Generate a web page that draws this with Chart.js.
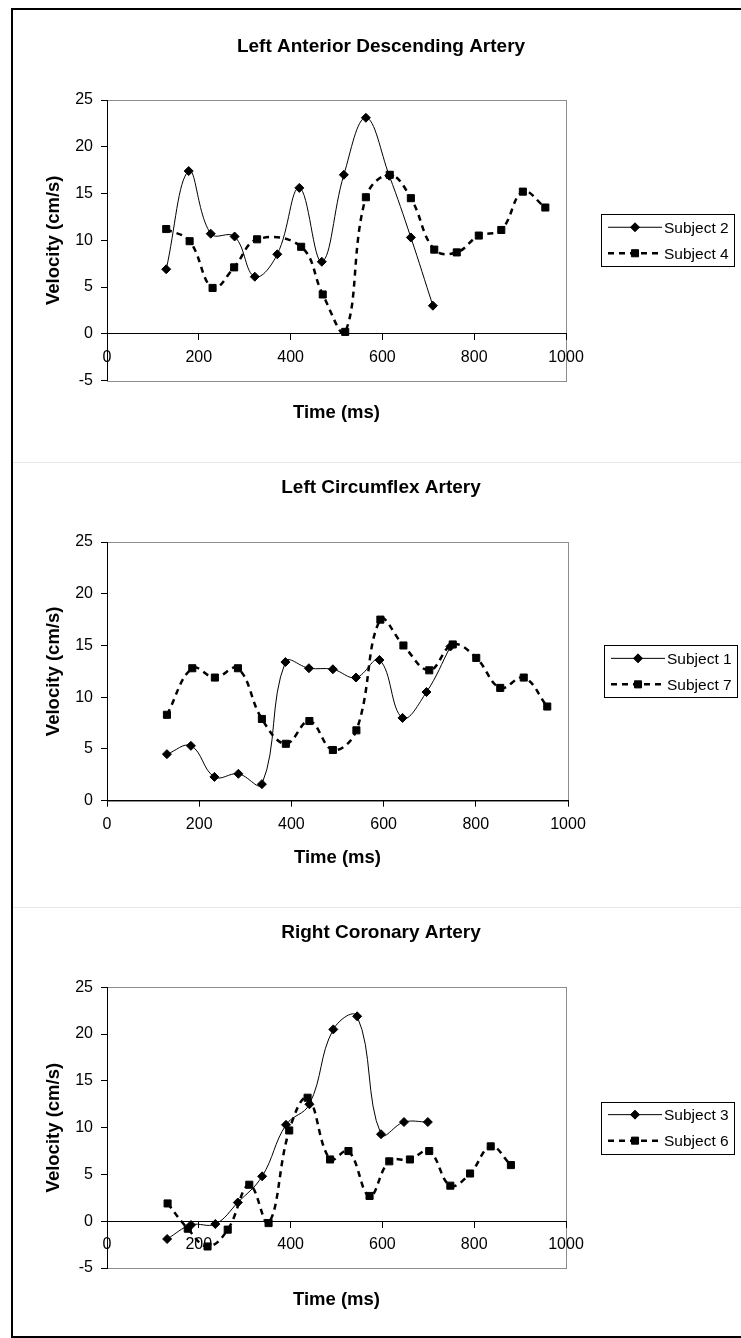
<!DOCTYPE html>
<html>
<head>
<meta charset="utf-8">
<title>Coronary artery velocity</title>
<script src="https://cdn.jsdelivr.net/npm/chart.js@4.4.1/dist/chart.umd.min.js"></script>
<style>
  html, body { margin: 0; padding: 0; background: #fff; }
  body { position: relative; width: 741px; height: 1338px; overflow: hidden; }
  canvas { position: absolute; left: 0; }
  #frame { position: absolute; left: 11px; top: 8px; width: 760px; height: 1330px;
           box-sizing: border-box; border: 2px solid #000; }
  .sep { position: absolute; left: 13px; width: 728px; height: 1px; background: #e6e6e6; }
</style>
</head>
<body>
<div class="sep" style="top:462px"></div>
<div class="sep" style="top:907px"></div>
<canvas id="lad" width="741" height="462" style="top:0"></canvas>
<canvas id="lcx" width="741" height="445" style="top:462px"></canvas>
<canvas id="rca" width="741" height="431" style="top:907px"></canvas>
<div id="frame"></div>
<script>
// Left Anterior Descending Artery
const ladTimeS2 = [129, 178, 226, 278, 322, 371, 419, 468, 516, 564, 615, 662, 710];
const ladVelS2  = [6.9, 17.4, 10.7, 10.4, 6.1, 8.5, 15.6, 7.7, 17.0, 23.1, 16.9, 10.3, 3.0];
const ladTimeS4 = [129, 180, 230, 277, 327, 423, 470, 519, 564, 616, 662, 713, 762, 810, 859, 906, 955];
const ladVelS4  = [11.2, 9.9, 4.9, 7.1, 10.1, 9.3, 4.2, 0.2, 14.6, 17.0, 14.5, 9.0, 8.7, 10.5, 11.1, 15.2, 13.5];

// Left Circumflex Artery
const lcxTimeS1 = [130, 182, 233, 285, 336, 387, 438, 490, 540, 591, 641, 693, 745];
const lcxVelS1  = [4.5, 5.3, 2.3, 2.6, 1.6, 13.4, 12.8, 12.7, 11.9, 13.6, 8.0, 10.5, 14.9];
const lcxTimeS7 = [130, 185, 234, 284, 336, 388, 439, 490, 541, 593, 643, 699, 750, 801, 853, 904, 955];
const lcxVelS7  = [8.3, 12.8, 11.9, 12.8, 7.9, 5.5, 7.7, 4.9, 6.8, 17.5, 15.0, 12.6, 15.1, 13.8, 10.9, 11.9, 9.1];

// Right Coronary Artery
const rcaTimeS3 = [131, 183, 236, 285, 338, 390, 441, 493, 545, 597, 647, 699];
const rcaVelS3  = [-1.9, -0.4, -0.3, 2.0, 4.8, 10.3, 12.5, 20.5, 21.9, 9.3, 10.6, 10.6];
const rcaTimeS6 = [132, 176, 219, 263, 310, 352, 397, 437, 486, 526, 572, 615, 660, 702, 748, 791, 836, 880];
const rcaVelS6  = [1.9, -0.8, -2.7, -0.9, 3.9, -0.2, 9.7, 13.2, 6.6, 7.5, 2.7, 6.4, 6.6, 7.5, 3.8, 5.1, 8.0, 6.0];

const timeTicks = [0, 200, 400, 600, 800, 1000];
const velTicksWide = [-5, 0, 5, 10, 15, 20, 25];
const velTicksPos = [0, 5, 10, 15, 20, 25];

const FONT = "'Liberation Sans', Arial, Helvetica, sans-serif";
Chart.defaults.font.family = FONT;
Chart.defaults.color = '#000';

function points(times, vels) {
    return times.map((t, i) => ({ x: t, y: vels[i] }));
}

function solidSeries(label, times, vels) {
    return {
        label,
        data: points(times, vels),
        borderColor: '#000',
        backgroundColor: '#000',
        borderWidth: 1,
        tension: 0.4,
        pointStyle: 'rectRot',
        pointRadius: 4.5,
        pointHoverRadius: 4.5,
        pointBorderWidth: 1,
    };
}

function dashedSeries(label, times, vels) {
    return {
        label,
        data: points(times, vels),
        borderColor: '#000',
        backgroundColor: '#000',
        borderWidth: 2.5,
        borderDash: [6, 5],
        tension: 0.4,
        pointStyle: 'rect',
        pointRadius: 5,
        pointHoverRadius: 5,
        pointBorderWidth: 1,
    };
}

// Excel-like plot frame, titles and boxed legend
const excelFrame = {
    id: 'excelFrame',
    beforeDraw(chart) {
        const { ctx, chartArea: a } = chart;
        ctx.save();
        ctx.strokeStyle = '#8c8c8c';
        ctx.lineWidth = 1;
        ctx.strokeRect(Math.round(a.left) + 0.5, Math.round(a.top) + 0.5,
            Math.round(a.right - a.left), Math.round(a.bottom - a.top));
        ctx.restore();
    },
    afterDraw(chart, args, o) {
        const { ctx, chartArea: a } = chart;
        const midX = (a.left + a.right) / 2;
        const midY = (a.top + a.bottom) / 2;
        ctx.save();
        ctx.fillStyle = '#000';
        ctx.textAlign = 'center';
        ctx.textBaseline = 'middle';

        ctx.font = 'bold 19px ' + FONT;
        ctx.fillText(o.title, o.titleX, o.titleY);

        ctx.font = 'bold 18.5px ' + FONT;
        ctx.fillText(o.xTitle, midX, o.xTitleY);
        ctx.save();
        ctx.translate(o.yTitleX, midY);
        ctx.rotate(-Math.PI / 2);
        ctx.fillText(o.yTitle, 0, 0);
        ctx.restore();

        // legend
        const lh = 52, rowGap = 26;
        const top = Math.round(midY - lh / 2) + 0.5;
        ctx.fillStyle = '#fff';
        ctx.fillRect(o.legendLeft, top, o.legendRight - o.legendLeft, lh);
        ctx.strokeStyle = '#000';
        ctx.lineWidth = 1;
        ctx.strokeRect(Math.round(o.legendLeft) + 0.5, top, Math.round(o.legendRight - o.legendLeft), lh);

        chart.data.datasets.forEach((ds, i) => {
            const y = midY + (i - 0.5) * rowGap;
            ctx.strokeStyle = '#000';
            ctx.fillStyle = '#000';
            ctx.lineWidth = ds.borderWidth;
            ctx.setLineDash(ds.borderDash || []);
            ctx.beginPath();
            ctx.moveTo(o.legendLeft + 7, y);
            ctx.lineTo(o.legendLeft + 61, y);
            ctx.stroke();
            ctx.setLineDash([]);
            ctx.lineWidth = 1;
            Chart.helpers.drawPoint(ctx, {
                pointStyle: ds.pointStyle, radius: ds.pointRadius, rotation: 0, borderWidth: 1
            }, o.legendLeft + 34, y);
            ctx.font = '15.5px ' + FONT;
            ctx.textAlign = 'left';
            ctx.fillText(ds.label, o.legendLeft + 63, y + 1);
        });
        ctx.restore();
    }
};

function makeChart(canvasId, cfg) {
    const axisGrid = { drawOnChartArea: false, drawTicks: true, tickLength: 6, color: '#000' };
    const axisBorder = { display: true, color: '#000', width: 1 };
    return new Chart(document.getElementById(canvasId), {
        type: 'line',
        data: { datasets: cfg.datasets },
        options: {
            responsive: false,
            animation: false,
            events: [],
            layout: { autoPadding: false, padding: cfg.padding },
            plugins: {
                legend: { display: false },
                tooltip: { enabled: false },
                excelFrame: cfg.frame,
            },
            scales: {
                x: {
                    type: 'linear',
                    min: timeTicks[0],
                    max: timeTicks[timeTicks.length - 1],
                    position: cfg.xPosition,
                    afterBuildTicks: s => { s.ticks = timeTicks.map(v => ({ value: v })); },
                    afterFit: s => { s.height = cfg.xHeight; },
                    grid: axisGrid,
                    border: axisBorder,
                    ticks: {
                        font: { size: 16 }, padding: 8, maxRotation: 0, autoSkip: false,
                        callback: v => String(v),
                    },
                },
                y: {
                    type: 'linear',
                    position: 'left',
                    min: cfg.yTicks[0],
                    max: cfg.yTicks[cfg.yTicks.length - 1],
                    afterBuildTicks: s => { s.ticks = cfg.yTicks.map(v => ({ value: v })); },
                    afterFit: s => { s.width = cfg.plotLeft; },
                    grid: axisGrid,
                    border: axisBorder,
                    ticks: { font: { size: 16 }, padding: 8, autoSkip: false, callback: v => String(v) },
                }
            }
        },
        plugins: [excelFrame]
    });
}

makeChart('lad', {
    datasets: [
        solidSeries('Subject 2', ladTimeS2, ladVelS2),
        dashedSeries('Subject 4', ladTimeS4, ladVelS4),
    ],
    yTicks: velTicksWide,
    xPosition: { y: 0 },
    xHeight: 0,
    plotLeft: 107,
    padding: { left: 0, top: 100, right: 175, bottom: 81.5 },
    frame: {
        title: 'Left Anterior Descending Artery', titleX: 381, titleY: 47,
        xTitle: 'Time (ms)', xTitleY: 413,
        yTitle: 'Velocity (cm/s)', yTitleX: 54,
        legendLeft: 601, legendRight: 734,
    }
});

makeChart('lcx', {
    datasets: [
        solidSeries('Subject 1', lcxTimeS1, lcxVelS1),
        dashedSeries('Subject 7', lcxTimeS7, lcxVelS7),
    ],
    yTicks: velTicksPos,
    xPosition: 'bottom',
    xHeight: 40,
    plotLeft: 107,
    padding: { left: 0, top: 80, right: 173, bottom: 66.3 },
    frame: {
        title: 'Left Circumflex Artery', titleX: 381, titleY: 25.3,
        xTitle: 'Time (ms)', xTitleY: 395.7,
        yTitle: 'Velocity (cm/s)', yTitleX: 54,
        legendLeft: 604, legendRight: 737,
    }
});

makeChart('rca', {
    datasets: [
        solidSeries('Subject 3', rcaTimeS3, rcaVelS3),
        dashedSeries('Subject 6', rcaTimeS6, rcaVelS6),
    ],
    yTicks: velTicksWide,
    xPosition: { y: 0 },
    xHeight: 0,
    plotLeft: 107,
    padding: { left: 0, top: 80.3, right: 175, bottom: 70 },
    frame: {
        title: 'Right Coronary Artery', titleX: 381, titleY: 25.3,
        xTitle: 'Time (ms)', xTitleY: 393,
        yTitle: 'Velocity (cm/s)', yTitleX: 54,
        legendLeft: 601, legendRight: 734,
    }
});
</script>
</body>
</html>
